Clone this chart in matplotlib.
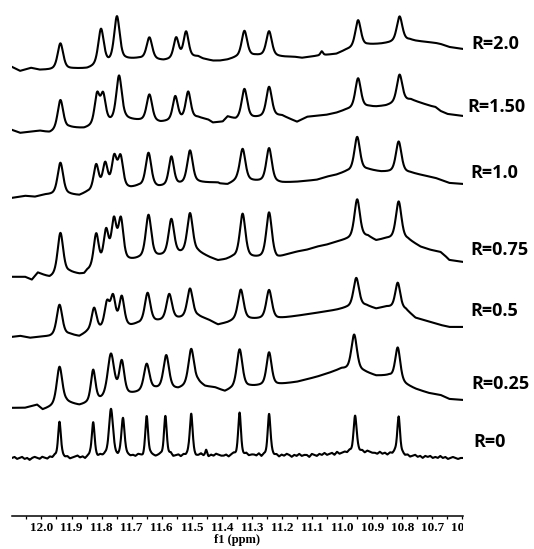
import numpy as np
import matplotlib
matplotlib.use("Agg")
import matplotlib.pyplot as plt
from matplotlib.ticker import MultipleLocator, FormatStrFormatter
from matplotlib.transforms import Bbox, TransformedBbox

# --- data (ppm, intensity in px above each trace's own baseline) ---
labels = ["R=2.0", "R=1.50", "R=1.0", "R=0.75", "R=0.5", "R=0.25", "R=0"]

r20_peaks = [11.937, 11.802, 11.749, 11.641, 11.552, 11.519, 11.325, 11.243, 11.068, 10.947, 10.809]
r20_amps = [26, 36, 45, 22, 21, 26, 26, 25, 4, 27, 25]
r20_widths = [0.022, 0.022, 0.022, 0.022, 0.020, 0.020, 0.022, 0.022, 0.010, 0.022, 0.022]
r20_base_ppm = [12.098, 12.071, 12.035, 12.006, 11.973, 11.890, 11.848, 11.719, 11.677, 11.594,
                11.479, 11.463, 11.430, 11.407, 11.381, 11.354, 11.288, 11.193, 11.160, 11.134,
                11.085, 11.019, 10.986, 10.914, 10.871, 10.843, 10.775, 10.756, 10.723, 10.690,
                10.673, 10.644, 10.598]
r20_base = [1, -3, 0, -2, -2, -1, -1, 8, 9, 7, 11, 9, 7, 7, 8, 10, 12, 11, 11, 10,
            12, 14, 18, 23, 24, 25, 28, 27, 26, 25, 24, 21, 19]

r15_peaks = [11.937, 11.815, 11.795, 11.742, 11.641, 11.555, 11.512, 11.325, 11.243, 10.947, 10.809]
r15_amps = [30, 30, 28, 45, 27, 24, 27, 30, 30, 30, 28]
r15_widths = [0.022, 0.020, 0.020, 0.022, 0.022, 0.020, 0.020, 0.022, 0.022, 0.022, 0.022]
r15_base_ppm = [12.098, 12.071, 12.038, 12.006, 11.973, 11.907, 11.858, 11.719, 11.683, 11.604,
                11.479, 11.446, 11.430, 11.397, 11.381, 11.354, 11.200, 11.150, 11.117, 11.085,
                11.052, 11.019, 10.986, 10.914, 10.887, 10.854, 10.772, 10.739, 10.706, 10.690,
                10.673, 10.650, 10.598]
r15_base = [0, -3, -2, -1, -3, 2, 1, 10, 9, 7, 12, 10, 7, 8, 13, 10, 14, 8, 13, 14,
            15, 17, 20, 23, 23, 24, 30, 27, 24, 23, 19, 16, 14]

r10_peaks = [11.937, 11.818, 11.788, 11.758, 11.737, 11.644, 11.568, 11.506, 11.331, 11.243, 10.950, 10.812]
r10_amps = [32, 26, 26, 31, 31, 34, 29, 33, 32, 34, 34, 31]
r10_widths = [0.022, 0.020, 0.020, 0.020, 0.020, 0.022, 0.020, 0.022, 0.022, 0.022, 0.022, 0.022]
r10_base_ppm = [12.098, 12.055, 12.022, 11.989, 11.973, 11.907, 11.874, 11.848, 11.703, 11.677,
                11.611, 11.479, 11.446, 11.413, 11.407, 11.381, 11.348, 11.200, 11.150, 11.085,
                11.052, 11.019, 10.986, 10.914, 10.871, 10.772, 10.739, 10.690, 10.644, 10.598]
r10_base = [-1, 1, 0, 2, 2, 2, 1, 4, 8, 10, 9, 14, 14, 14, 13, 12, 16, 14, 15, 17,
            20, 22, 25, 27, 25, 24, 22, 19, 14, 13]

r075_peaks = [11.937, 11.818, 11.785, 11.759, 11.736, 11.644, 11.568, 11.506, 11.331, 11.243, 10.950, 10.812]
r075_amps = [42, 34, 34, 42, 42, 43, 36, 40, 44, 46, 39, 38]
r075_widths = [0.022, 0.020, 0.020, 0.020, 0.020, 0.022, 0.022, 0.022, 0.022, 0.022, 0.022, 0.022]
r075_base_ppm = [12.098, 12.055, 12.032, 12.012, 11.989, 11.973, 11.907, 11.874, 11.858, 11.848,
                 11.710, 11.677, 11.479, 11.440, 11.413, 11.387, 11.364, 11.216, 11.183, 11.150,
                 11.117, 11.085, 11.052, 11.019, 10.986, 10.914, 10.887, 10.854, 10.781, 10.739,
                 10.706, 10.673, 10.657, 10.644, 10.598]
r075_base = [0, 0, -3, 4, 1, -1, 4, 2, 2, 5, 15, 17, 24, 19, 16, 17, 19, 18, 22, 25,
             27, 30, 32, 35, 37, 40, 36, 38, 37, 30, 27, 25, 21, 17, 15]

r05_peaks = [11.940, 11.825, 11.782, 11.762, 11.733, 11.647, 11.575, 11.506, 11.337, 11.243, 10.953, 10.815]
r05_amps = [31, 23, 25, 30, 30, 30, 26, 29, 30, 29, 29, 26]
r05_widths = [0.022, 0.020, 0.020, 0.020, 0.020, 0.022, 0.022, 0.022, 0.022, 0.022, 0.022, 0.020]
r05_base_ppm = [12.098, 12.071, 12.038, 12.006, 11.973, 11.907, 11.874, 11.848, 11.703, 11.683,
                11.479, 11.446, 11.413, 11.381, 11.348, 11.216, 11.150, 11.085, 11.019, 10.986,
                10.920, 10.887, 10.854, 10.788, 10.756, 10.706, 10.673, 10.644, 10.598]
r05_base = [0, 1, -1, 0, 0, 2, 0, 4, 10, 12, 20, 17, 12, 14, 17, 18, 21, 24, 27, 29,
            31, 28, 30, 27, 19, 15, 12, 10, 10]

r025_peaks = [11.940, 11.828, 11.769, 11.733, 11.650, 11.585, 11.502, 11.341, 11.243, 10.960, 10.815]
r025_amps = [38, 32, 44, 34, 27, 34, 36, 39, 33, 36, 33]
r025_widths = [0.022, 0.018, 0.026, 0.020, 0.022, 0.022, 0.022, 0.022, 0.020, 0.022, 0.020]
r025_base_ppm = [12.098, 12.055, 12.015, 11.996, 11.973, 11.917, 11.874, 11.858, 11.700, 11.621,
                 11.545, 11.479, 11.456, 11.423, 11.390, 11.371, 11.305, 11.216, 11.150, 11.085,
                 11.042, 11.002, 10.927, 10.887, 10.843, 10.788, 10.756, 10.713, 10.673, 10.644,
                 10.598]
r025_base = [0, 0, 3, -2, 0, 5, 2, 3, 13, 18, 18, 25, 21, 20, 16, 18, 21, 23, 26, 31,
             35, 39, 36, 32, 32, 23, 19, 15, 13, 9, 8]

r0_peaks = [11.940, 11.828, 11.769, 11.729, 11.650, 11.588, 11.452, 11.502, 11.341, 11.243, 10.957, 10.812]
r0_amps = [37, 35, 47, 38, 40, 39, 5, 42, 43, 41, 36, 38]
r0_widths = [0.011, 0.011, 0.016, 0.012, 0.011, 0.011, 0.007, 0.011, 0.011, 0.011, 0.012, 0.011]
r0_base = [-1, 0, -2, -1, 0, -2, -1, -3, -1, 0, -1, -2,
           0, -1, -2, 0, -1, 1, -1, -2, 0, -1, 0, -2,
           -1, 0, 1, -1, 0, -2, 0, 1, -1, 0, -1, 1,
           0, 1, -1, 0, 2, 0, -1, 1, 0, 2, 1, 0,
           1, 0, 2, 1, -1, 1, 0, 2, 1, 0, 1, 2,
           0, 2, 1, 3, 0, 1, 2, 0, 2, 1, 3, 1,
           2, 0, 1, 3, 1, 2, 0, 2, 1, 3, 2, 1,
           1, 2, 0, 2, 3, 1, 2, 0, 1, 3, 1, 2,
           2, 1, 3, 0, 2, 1, 2, 3, 1, 2, 0, 2,
           1, 3, 2, 0, 2, 1, 3, 1, 2, 2, 0, 3,
           2, 1, 3, 2, 4, 2, 3, 4, 2, 5, 3, 4,
           5, 4, 6, 4, 5, 7, 5, 6, 4, 6, 5, 4,
           4, 3, 5, 3, 4, 2, 4, 3, 5, 3, 2, 3,
           1, 2, 0, 1, 2, 0, 1, -1, 1, 0, 1, -1,
           0, -1, 1, -1, 0, -2, -1, 0, -1, -2, -1, -1]
r0_base_ppm = np.linspace(12.098, 10.598, len(r0_base))

traces = [
    (r20_peaks, r20_amps, r20_widths, r20_base_ppm, r20_base),
    (r15_peaks, r15_amps, r15_widths, r15_base_ppm, r15_base),
    (r10_peaks, r10_amps, r10_widths, r10_base_ppm, r10_base),
    (r075_peaks, r075_amps, r075_widths, r075_base_ppm, r075_base),
    (r05_peaks, r05_amps, r05_widths, r05_base_ppm, r05_base),
    (r025_peaks, r025_amps, r025_widths, r025_base_ppm, r025_base),
    (r0_peaks, r0_amps, r0_widths, r0_base_ppm, r0_base),
]

# --- layout (pixels of the 534x549 picture) ---
W, H = 534, 549
axis_y = 516
offsets_px = [68, 130, 197, 277, 337, 408, 457]
label_xy = [(471, 44), (467, 107), (470, 173), (470, 250), (470, 311), (471, 384), (473, 442)]


def spectrum(x, peaks, amps, widths, base_ppm, base, eta=0.5):
    # baseline from the read anchor values + pseudo-Voigt line for each peak
    y = np.interp(x, np.asarray(base_ppm)[::-1], np.asarray(base, float)[::-1])
    for p, a, w in zip(peaks, amps, widths):
        u = (x - p) / (w / 2)
        y = y + a * (eta / (1 + u ** 2) + (1 - eta) * np.exp(-np.log(2) * u ** 2))
    return y


fig = plt.figure(figsize=(W / 100, H / 100), dpi=100)
ax = fig.add_axes([12 / W, (H - axis_y) / H, (463 - 12) / W, axis_y / H])

x = np.linspace(12.098, 10.598, 3000)
for (pk, am, wd, bp, bv), off in zip(traces, offsets_px):
    ax.plot(x, (axis_y - off) + spectrum(x, pk, am, wd, bp, bv), color="black", lw=1.5,
            solid_joinstyle="round")

ax.set_xlim(12.098, 10.598)
ax.set_ylim(0, axis_y)
for s in ["left", "right", "top"]:
    ax.spines[s].set_visible(False)
ax.spines["bottom"].set_linewidth(1.1)
ax.set_yticks([])
ax.xaxis.set_major_locator(MultipleLocator(0.1))
ax.xaxis.set_minor_locator(MultipleLocator(0.05))
ax.tick_params(axis="x", which="both", direction="out", length=2.5, width=0.9, pad=2)
ax.xaxis.set_major_formatter(FormatStrFormatter("%.1f"))
clip = TransformedBbox(Bbox([[0, -1], [1, 1]]), ax.transAxes)
for lbl in ax.get_xticklabels():
    lbl.set_fontfamily("Liberation Serif")
    lbl.set_fontweight("bold")
    lbl.set_fontsize(9.5)
    lbl.set_clip_on(True)
    lbl.set_clip_box(clip)
ax.set_xlabel("f1 (ppm)", fontfamily="Liberation Serif", fontweight="bold", fontsize=9, labelpad=0)

for lab, (lx, ly) in zip(labels, label_xy):
    fig.text(lx / W, 1 - ly / H, lab, ha="left", va="center",
             fontfamily="Open Sans", fontweight="bold", fontsize=13)

fig.savefig("out.png", dpi=100)
